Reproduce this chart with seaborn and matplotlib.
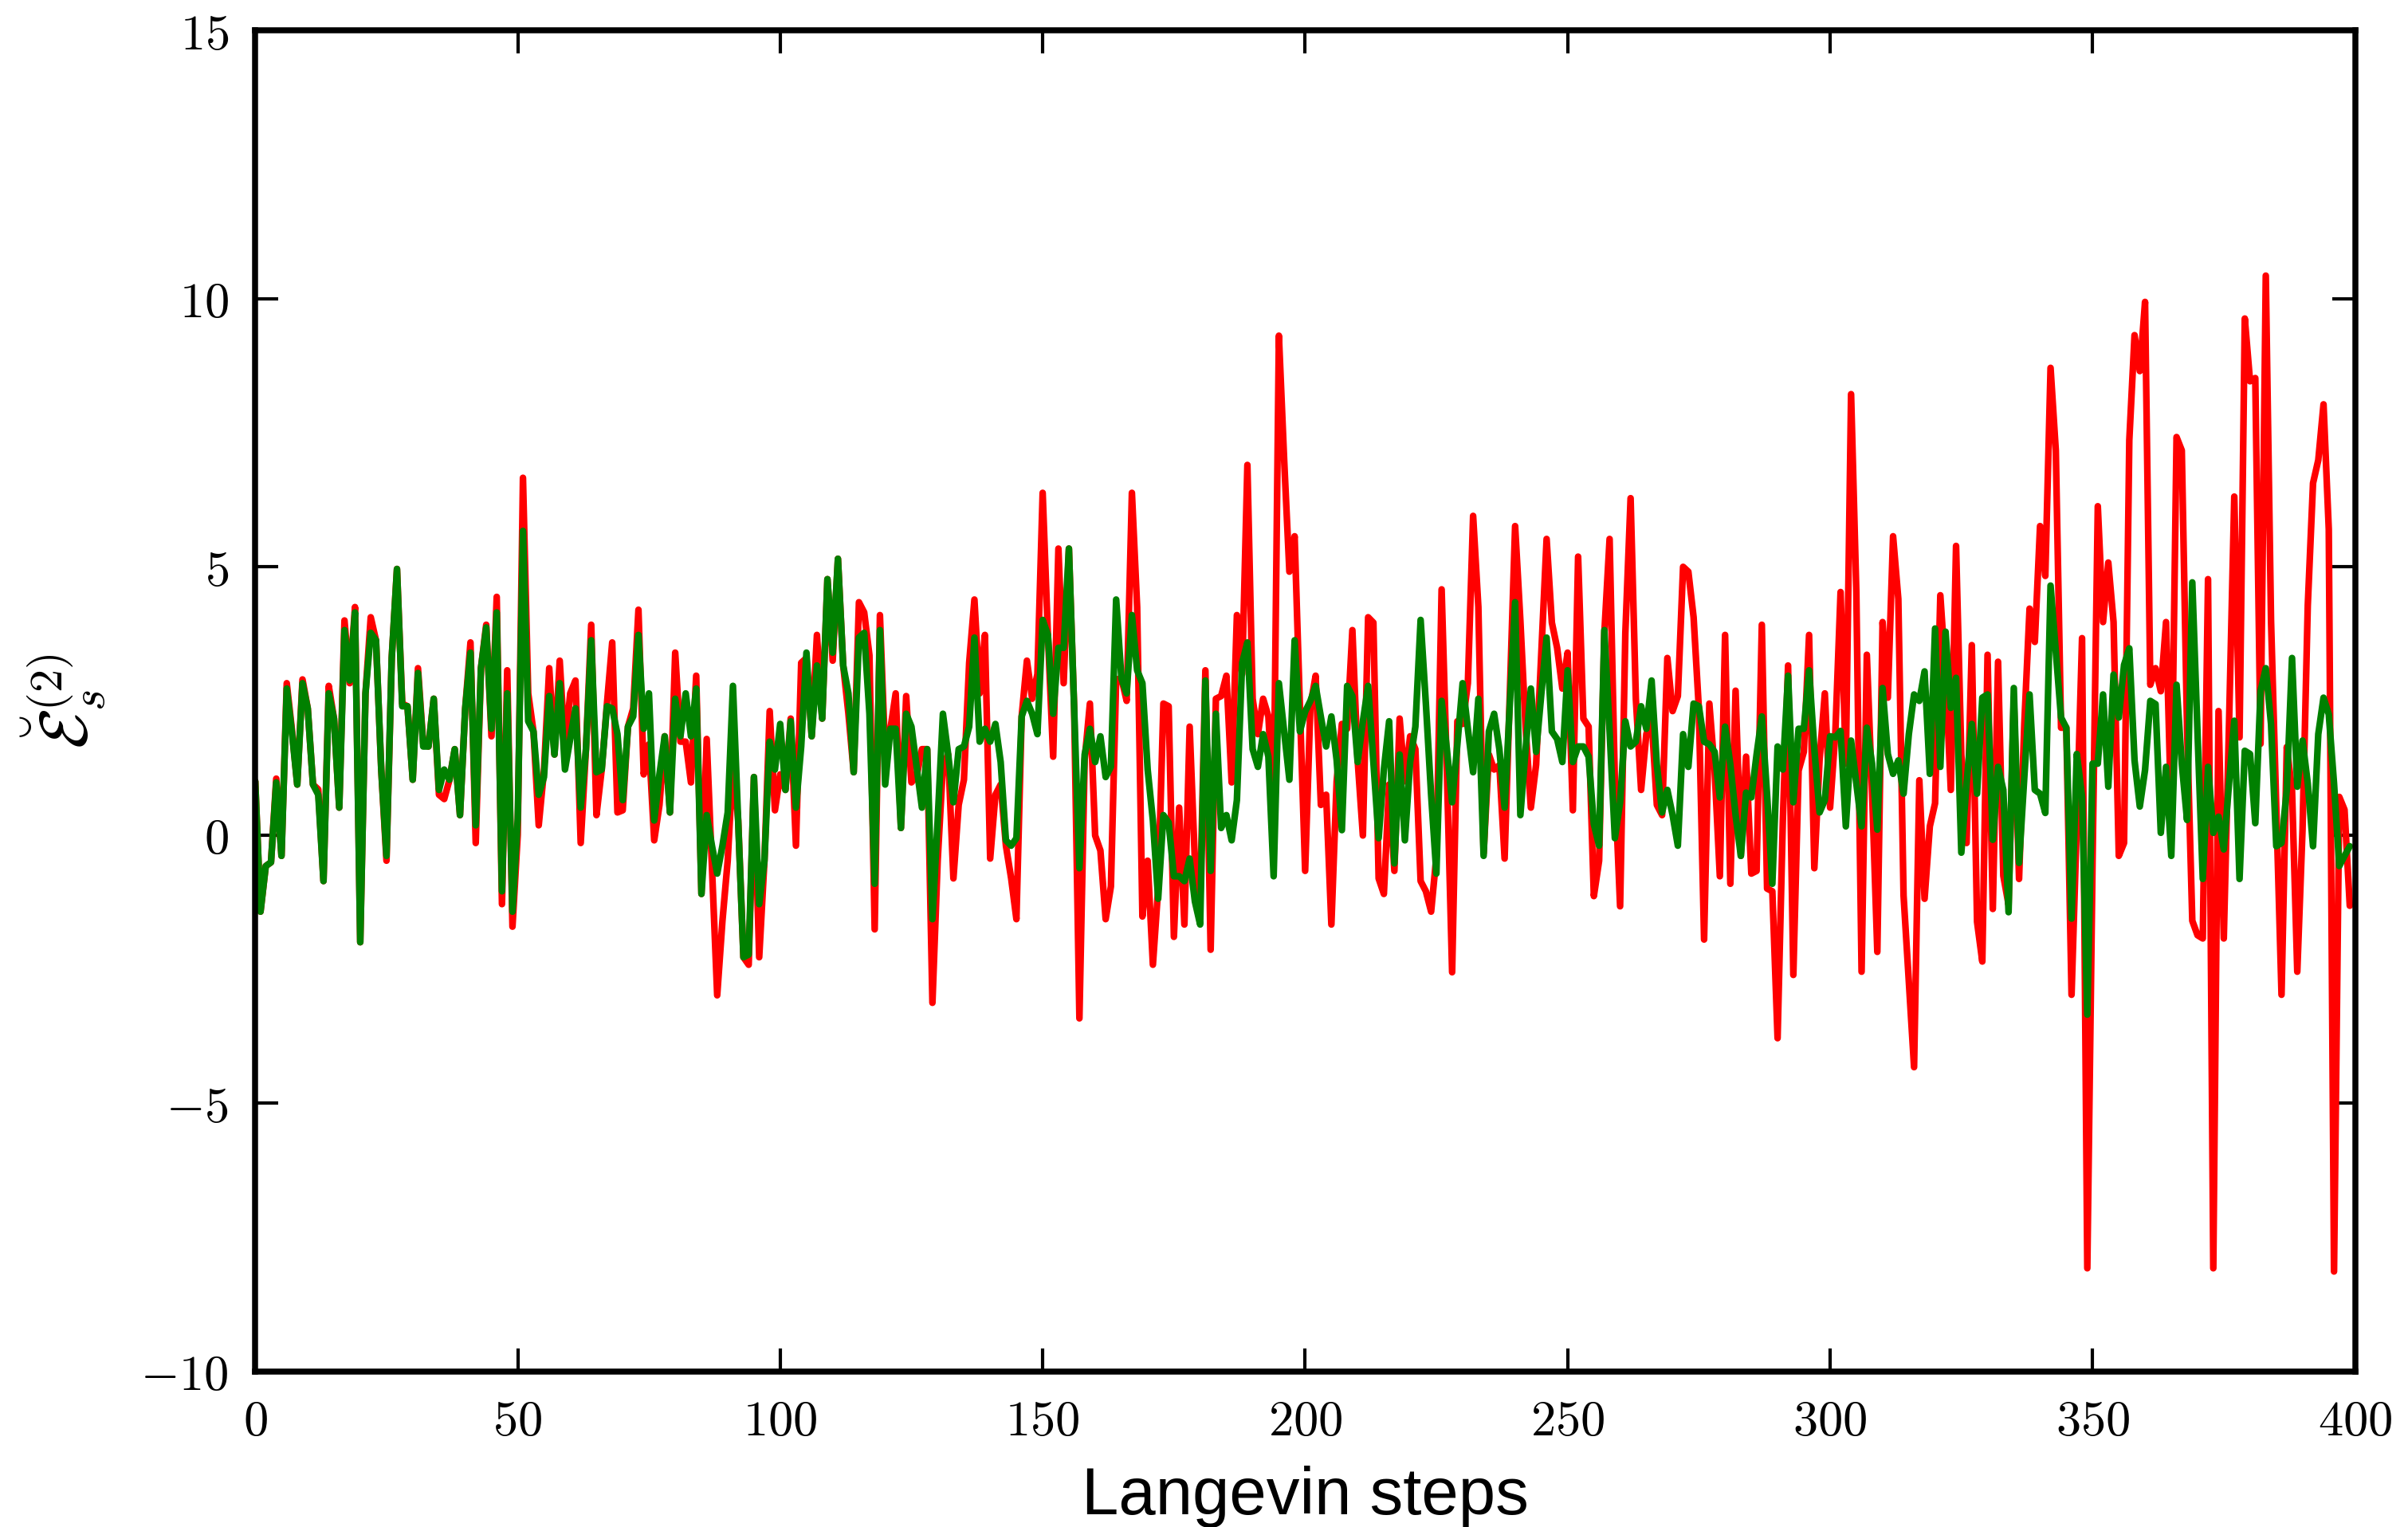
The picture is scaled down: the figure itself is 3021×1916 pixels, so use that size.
import numpy as np
import matplotlib
matplotlib.use("Agg")
import matplotlib.pyplot as plt
from matplotlib.ticker import FuncFormatter
import seaborn as sns

# Langevin step index
steps = np.arange(400)

# red series
red_vals = [
    1.0, -1.43, -0.58, -0.51, 1.05, -0.39, 2.83, 1.95, 0.94, 2.9,
    2.36, 0.94, 0.85, -0.86, 2.78, 2.17, 0.51, 4.0, 2.83, 4.25,
    -2.0, 2.64, 4.06, 3.63, 1.22, -0.48, 3.30, 4.96, 2.45, 2.40,
    1.03, 3.11, 1.70, 1.65, 2.54, 0.75, 0.67, 1.03, 1.6, 0.37,
    2.36, 3.59, -0.15, 3.11, 3.92, 1.84, 4.44, -1.29, 3.07, -1.71,
    0.0, 6.66, 2.64, 1.93, 0.18, 1.2, 3.11, 1.5, 3.25, 1.6,
    2.64, 2.88, -0.15, 1.6, 3.92, 0.37, 1.22, 2.45, 3.59, 0.42,
    0.46, 2.02, 2.36, 4.2, 1.13, 1.69, -0.1, 0.56, 1.84, 0.42,
    3.4, 1.74, 1.74, 0.98, 2.97, -1.1, 1.79, -0.6, -2.99, -1.6,
    -0.48, 1.36, 0.27, -2.28, -2.42, 1.08, -2.28, -0.48, 2.31, 0.46,
    1.13, 0.84, 2.17, -0.2, 3.21, 3.3, 1.84, 3.73, 2.17, 4.77,
    3.25, 5.15, 3.16, 2.26, 1.17, 4.34, 4.15, 3.35, -1.76, 4.1,
    1.5, 1.98, 2.64, 0.13, 2.59, 0.98, 1.1, 1.6, 1.6, -3.13,
    -0.48, 1.3, 1.5, -0.81, 0.56, 1.03, 3.21, 4.39, 2.64, 3.73,
    -0.44, 0.75, 0.94, -0.2, -0.81, -1.57, 2.21, 3.25, 2.54, 3.0,
    6.38, 3.73, 1.46, 5.34, 2.83, 5.34, 2.36, -3.42, 1.4, 2.45,
    -0.01, -0.29, -1.57, -0.96, 2.9, 2.92, 2.5, 6.38, 4.25, -1.52,
    -0.48, -2.42, -1.0, 2.45, 2.4, -1.9, 0.51, -1.67, 2.02, -0.5,
    -1.2, 3.07, -2.14, 2.54, 2.59, 2.97, 0.98, 4.1, 3.0, 6.9,
    2.54, 1.88, 2.54, 2.21, 0.5, 9.31, 7.0, 4.91, 5.57, 2.4,
    -0.67, 2.4, 2.97, 0.56, 0.75, -1.67, 1.0, 2.07, 1.98, 3.82,
    1.4, -0.01, 4.06, 3.96, -0.81, -1.1, 0.94, -0.67, 2.17, 1.0,
    1.84, 1.6, -0.86, -1.05, -1.43, -0.4, 4.58, 1.2, -2.56, 2.12,
    2.07, 2.83, 5.95, 4.25, -0.34, 1.5, 1.22, 1.3, -0.44, 2.64,
    5.76, 4.0, 2.0, 0.51, 1.31, 3.4, 5.52, 3.96, 3.49, 2.73,
    3.4, 0.46, 5.19, 2.17, 2.02, -1.14, -0.48, 3.77, 5.52, 1.0,
    -1.33, 3.77, 6.28, 2.54, 0.84, 1.88, 2.17, 0.56, 0.37, 3.3,
    2.31, 2.59, 5.0, 4.91, 4.06, 2.36, -1.95, 2.45, 1.22, -0.77,
    3.73, -0.91, 2.69, -0.39, 1.46, -0.72, -0.67, 3.92, -1.0, -1.05,
    -3.79, 0.27, 3.16, -2.61, 1.2, 1.55, 3.73, -0.62, 1.4, 2.64,
    0.51, 1.9, 4.53, 1.33, 8.22, 4.53, -2.55, 3.36, 0.8, -2.18,
    3.97, 2.56, 5.57, 4.4, -1.13, -2.73, -4.33, 1.02, -1.19, 0.16,
    0.59, 4.47, 3.0, 0.84, 5.39, 1.5, -0.15, 3.54, -1.62, -2.36,
    3.36, -1.38, 3.23, -0.76, -1.3, 2.56, -0.82, 2.07, 4.22, 3.6,
    5.76, 4.83, 8.71, 7.17, 2.0, 2.0, -2.98, 0.22, 3.67, -8.08,
    -0.5, 6.13, 3.97, 5.08, 3.97, -0.39, -0.15, 7.36, 9.32, 8.65,
    9.94, 2.8, 3.11, 2.68, 3.97, 0.3, 7.42, 7.17, 2.0, -1.6,
    -1.87, -1.93, 4.77, -8.08, 2.31, -1.93, 2.07, 6.31, 1.82, 9.63,
    8.46, 8.52, 1.7, 10.43, 4.0, 0.5, -2.98, 1.64, 0.84, -2.55,
    0.1, 4.28, 6.56, 6.99, 8.03, 5.7, -8.14, 0.71, 0.47, -1.32,
]

# green series
green_vals = [
    1.0, -1.43, -0.58, -0.51, 0.98, -0.39, 2.73, 1.9, 0.94, 2.83,
    2.36, 0.94, 0.75, -0.86, 2.64, 2.17, 0.51, 3.82, 2.88, 4.15,
    -2.0, 2.64, 3.77, 3.63, 1.22, -0.39, 3.30, 4.96, 2.40, 2.40,
    1.03, 3.02, 1.65, 1.65, 2.54, 0.84, 1.22, 1.03, 1.6, 0.37,
    2.36, 3.40, 0.18, 3.11, 3.87, 1.98, 4.15, -1.05, 2.64, -1.43,
    0.3, 5.67, 2.12, 1.93, 0.75, 1.08, 2.59, 1.5, 2.83, 1.22,
    1.79, 2.36, 0.51, 1.6, 3.63, 1.17, 1.22, 2.4, 2.36, 1.88,
    0.65, 2.02, 2.21, 3.73, 1.98, 2.64, 0.27, 1.13, 1.84, 0.42,
    2.54, 1.84, 2.64, 1.84, 2.73, -1.1, 0.37, -0.2, -0.72, -0.2,
    0.42, 2.78, 0.27, -2.28, -2.23, 1.08, -1.29, -0.48, 1.74, 1.22,
    2.07, 0.84, 2.12, 0.51, 1.65, 3.40, 1.84, 3.16, 2.17, 4.77,
    3.40, 5.15, 3.16, 2.64, 1.17, 3.68, 3.77, 2.26, -0.91, 3.82,
    0.94, 1.98, 1.98, 0.13, 2.26, 2.02, 1.27, 0.51, 1.6, -1.57,
    0.27, 2.26, 1.5, 0.61, 1.6, 1.65, 2.02, 3.68, 1.74, 1.98,
    1.74, 2.07, 1.36, -0.1, -0.2, -0.06, 2.21, 2.5, 2.26, 1.88,
    4.01, 3.73, 2.26, 3.49, 3.49, 5.34, 2.36, -0.62, 1.5, 1.98,
    1.36, 1.84, 1.08, 1.27, 4.39, 2.92, 2.64, 4.1, 3.07, 2.83,
    1.22, 0.27, -1.19, 0.37, 0.23, -0.77, -0.77, -0.86, -0.44, -1.24,
    -1.67, 2.88, -0.67, 2.26, 0.13, 0.37, -0.1, 0.65, 3.21, 3.59,
    1.6, 1.27, 1.88, 1.46, -0.77, 2.83, 1.93, 1.03, 3.63, 1.93,
    2.3, 2.5, 2.78, 2.2, 1.65, 2.21, 1.4, 0.09, 2.78, 2.59,
    1.36, 2.12, 2.78, 1.36, -0.06, 1.22, 2.12, -0.53, 1.5, -0.1,
    1.36, 2.02, 4.01, 2.45, 0.75, -0.72, 2.5, 1.6, 0.61, 1.69,
    2.83, 1.98, 1.17, 2.54, -0.39, 1.93, 2.26, 1.6, 0.51, 2.45,
    4.34, 0.37, 1.6, 2.73, 1.55, 2.64, 3.68, 1.93, 1.79, 1.36,
    3.07, 1.36, 1.65, 1.65, 1.46, 0.2, -0.2, 3.82, 1.93, -0.06,
    0.61, 2.12, 1.65, 1.74, 2.4, 1.98, 2.88, 1.31, 0.42, 0.84,
    0.37, -0.2, 1.88, 1.27, 2.45, 2.4, 1.74, 1.69, 1.55, 0.7,
    2.02, 1.31, 0.37, -0.39, 0.79, 0.7, 1.5, 2.21, 0.75, -0.91,
    1.65, 1.22, 2.97, 0.61, 1.98, 1.98, 3.07, 1.6, 0.42, 0.65,
    1.84, 1.82, 1.94, 0.16, 1.76, 0.96, 0.16, 2.0, 1.33, 0.1,
    2.74, 1.51, 1.14, 1.39, 0.77, 1.88, 2.62, 2.5, 3.05, 1.14,
    3.85, 1.27, 3.79, 2.37, 2.93, -0.33, 0.96, 2.07, 0.77, 2.56,
    2.62, -0.09, 1.27, 0.84, -1.44, 2.74, -0.52, 1.08, 2.62, 0.84,
    0.77, 0.41, 4.65, 3.42, 2.19, 2.0, -1.56, 1.51, 0.71, -3.35,
    1.33, 1.33, 2.62, 0.9, 2.99, 2.19, 3.17, 3.48, 1.39, 0.53,
    1.21, 2.5, 2.44, 0.04, 1.27, -0.39, 2.8, 1.33, 0.28, 4.71,
    1.9, -0.82, 1.27, 0.04, 0.34, -0.27, 0.96, 2.13, -0.82, 1.57,
    1.51, 0.22, 2.68, 3.11, 2.07, -0.21, -0.15, 0.84, 3.3, 0.9,
    1.76, 0.96, -0.21, 1.88, 2.56, 2.25, 0.96, -0.58, -0.39, -0.21,
]

x_ticks = [0, 50, 100, 150, 200, 250, 300, 350, 400]
y_ticks = [-10, -5, 0, 5, 10, 15]

sns.set_style("ticks")
plt.rcParams['mathtext.fontset'] = 'cm'

fig = plt.figure(figsize=(3021 / 300, 1916 / 300), dpi=300)
ax = fig.add_axes([0.106, 0.102, 0.872, 0.878])

sns.lineplot(x=steps, y=red_vals, color='red', lw=2.0, ax=ax)
sns.lineplot(x=steps, y=green_vals, color='green', lw=2.0, ax=ax)

ax.set_xlim(0, 400)
ax.set_ylim(-10, 15)
ax.set_xticks(x_ticks)
ax.set_yticks(y_ticks)
mfmt = FuncFormatter(lambda v, p: f'${v:g}$')
ax.xaxis.set_major_formatter(mfmt)
ax.yaxis.set_major_formatter(mfmt)

for s in ax.spines.values():
    s.set_visible(True)
    s.set_color('black')
    s.set_linewidth(1.8)

ax.tick_params(which='both', direction='in', top=True, right=True,
               length=7, width=1, colors='black', labelsize=15, pad=8)

ax.set_xlabel('Langevin steps', fontsize=20, family='Liberation Sans',
              color='black', labelpad=6)
ax.set_ylabel(r'$\breve{\mathcal{E}}_s^{(2)}$', fontsize=20, color='black',
              labelpad=10)

fig.savefig('out.png', dpi=300)
